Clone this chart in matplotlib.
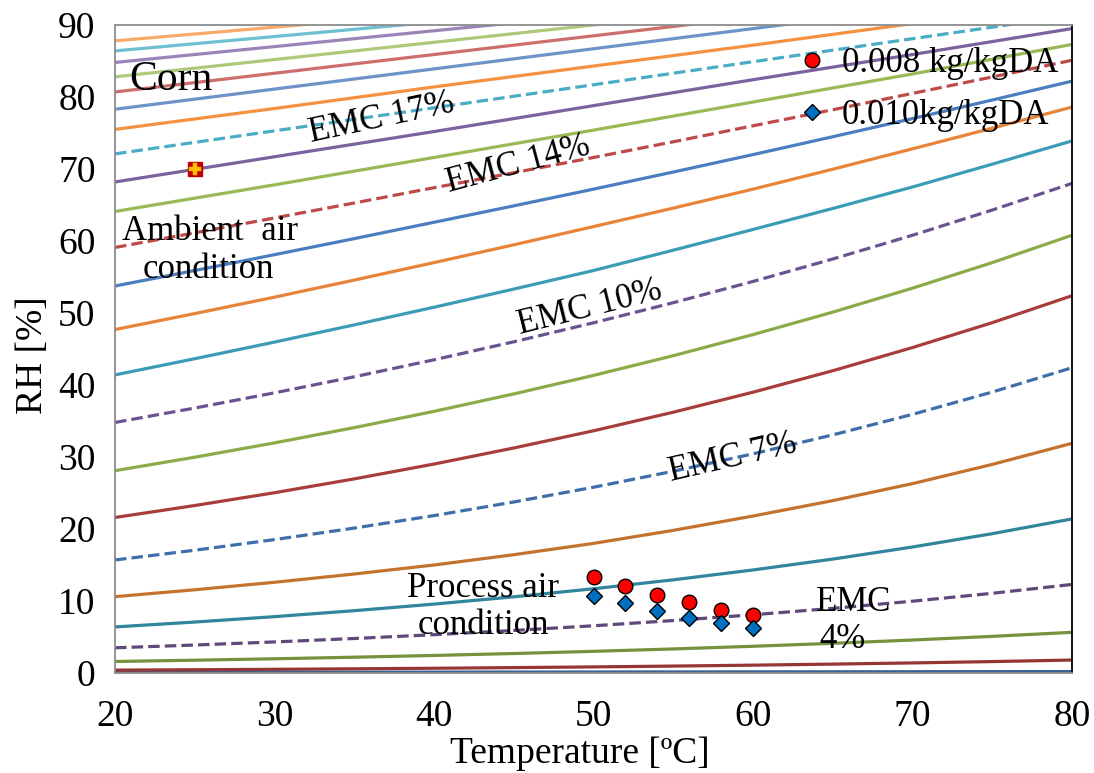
import matplotlib
matplotlib.use("Agg")
import matplotlib.pyplot as plt
from matplotlib.lines import Line2D

plt.rcParams['font.family'] = ['Liberation Serif', 'DejaVu Serif']

# Temperatures (degC) at which each equilibrium-moisture curve is tabulated
temperature = [20, 25, 30, 35, 40, 45, 50, 55, 60, 65, 70, 75, 80]

# Relative humidity (%) along each constant-EMC curve (EMC 1% ... 24%)
emc_01 = [0.10, 0.105, 0.11, 0.115, 0.12, 0.13, 0.14, 0.15, 0.16, 0.17, 0.18, 0.19, 0.20]
emc_02 = [0.4, 0.453, 0.514, 0.583, 0.660, 0.748, 0.848, 0.961, 1.09, 1.235, 1.40, 1.587, 1.80]
emc_03 = [1.6, 1.777, 1.975, 2.194, 2.437, 2.707, 3.007, 3.341, 3.711, 4.123, 4.580, 5.088, 5.65]
emc_04 = [3.5, 3.886, 4.315, 4.792, 5.321, 5.908, 6.560, 7.284, 8.088, 8.981, 9.972, 11.07, 12.3]
emc_05 = [6.4, 7.077, 7.826, 8.654, 9.569, 10.58, 11.70, 12.94, 14.31, 15.82, 17.50, 19.35, 21.4]
emc_06 = [10.6, 11.56, 12.6, 13.75, 15.0, 16.43, 18.0, 19.81, 21.8, 23.94, 26.3, 28.97, 31.9]
emc_07 = [15.7, 17.05, 18.53, 20.13, 21.86, 23.75, 25.80, 28.02, 30.44, 33.07, 35.92, 39.02, 42.4]
emc_08 = [21.6, 23.26, 25.04, 26.96, 29.02, 31.25, 33.64, 36.22, 39.0, 41.98, 45.2, 48.66, 52.4]
emc_09 = [28.1, 29.97, 31.96, 34.08, 36.34, 38.76, 41.33, 44.07, 47.0, 50.12, 53.45, 57.0, 60.8]
emc_10 = [34.8, 36.80, 38.91, 41.14, 43.50, 46.0, 48.64, 51.43, 54.38, 57.50, 60.80, 64.30, 68.0]
emc_11 = [41.4, 43.65, 45.96, 48.35, 50.8, 53.32, 55.9, 58.72, 61.6, 64.52, 67.5, 70.67, 73.9]
emc_12 = [47.7, 49.92, 52.2, 54.57, 57.0, 59.47, 62.0, 64.57, 67.2, 69.97, 72.8, 75.67, 78.6]
emc_13 = [53.75, 55.9, 58.1, 60.33, 62.6, 64.88, 67.2, 69.58, 72.0, 74.48, 77.0, 79.58, 82.2]
emc_14 = [59.1, 61.13, 63.2, 65.28, 67.4, 69.48, 71.6, 73.78, 76.0, 78.23, 80.5, 82.78, 85.1]
emc_15 = [64.1, 65.95, 67.8, 69.7, 71.6, 73.5, 75.4, 77.35, 79.3, 81.25, 83.2, 85.25, 87.3]
emc_16 = [68.2, 69.95, 71.7, 73.45, 75.2, 77.0, 78.8, 80.6, 82.4, 84.15, 85.9, 87.7, 89.5]
emc_17 = [72.1, 73.7, 75.3, 76.9, 78.5, 80.1, 81.7, 83.3, 84.9, 86.5, 88.1, 89.7, 91.3]
emc_18 = [75.5, 76.95, 78.4, 79.9, 81.4, 82.85, 84.3, 85.75, 87.2, 88.7, 90.2, 91.65, 93.1]
emc_19 = [78.3, 79.7, 81.1, 82.5, 83.9, 85.3, 86.7, 88.1, 89.5, 90.9, 92.3, 93.7, 95.1]
emc_20 = [80.7, 82.0, 83.3, 84.6, 85.9, 87.2, 88.5, 89.8, 91.1, 92.4, 93.7, 95.0, 96.3]
emc_21 = [82.8, 84.0, 85.2, 86.4, 87.6, 88.8, 90.0, 91.2, 92.4, 93.6, 94.8, 96.0, 97.2]
emc_22 = [84.8, 85.9, 87.0, 88.1, 89.2, 90.3, 91.4, 92.5, 93.6, 94.7, 95.8, 96.9, 98.0]
emc_23 = [86.4, 87.4, 88.4, 89.4, 90.4, 91.4, 92.4, 93.4, 94.4, 95.4, 96.4, 97.4, 98.4]
emc_24 = [87.8, 88.75, 89.7, 90.65, 91.6, 92.55, 93.5, 94.45, 95.4, 96.35, 97.3, 98.25, 99.2]

curves = [emc_01, emc_02, emc_03, emc_04, emc_05, emc_06, emc_07, emc_08,
          emc_09, emc_10, emc_11, emc_12, emc_13, emc_14, emc_15, emc_16,
          emc_17, emc_18, emc_19, emc_20, emc_21, emc_22, emc_23, emc_24]

# Curves highlighted with a dashed style (EMC %)
dashed_levels = [4, 7, 10, 14, 17]

# Process air states at two humidity ratios
process_temp = [50, 52, 54, 56, 58, 60]
rh_0008 = [13.4, 12.1, 10.9, 9.8, 8.75, 8.0]
rh_0010 = [10.7, 9.7, 8.65, 7.7, 7.0, 6.3]

# Ambient air state
ambient_temp = [25]
ambient_rh = [70]

x_ticks = [20, 30, 40, 50, 60, 70, 80]
y_ticks = [0, 10, 20, 30, 40, 50, 60, 70, 80, 90]

line_colors = [
    '#3A6496', '#963634', '#76923C', '#5F497A', '#31859C', '#C4732F',
    '#3E6EAB', '#A83E3B', '#8AAB47', '#6B5290', '#3A9CB5', '#E8843A',
    '#4A7EC0', '#BE4B48', '#98B954', '#7D62A0', '#4AACC6', '#F59242',
    '#6D93C9', '#CC6E6B', '#AFC97A', '#9A84B8', '#6FBFD2', '#F9AA69',
]

fig = plt.figure(figsize=(10.94, 7.73), dpi=100)
ax = fig.add_axes([115 / 1094, 1 - 673 / 773, (1072 - 115) / 1094, (673 - 25) / 773])

for level, (rh, color) in enumerate(zip(curves, line_colors), start=1):
    style = (0, (3.6, 1.6)) if level in dashed_levels else '-'
    ax.plot(temperature, rh, color=color, lw=2.3, ls=style,
            solid_capstyle='butt', dash_capstyle='butt',
            solid_joinstyle='round', zorder=2)

ax.plot(process_temp, rh_0008, ls='none', marker='o', ms=10.5,
        mfc='#FF0000', mec='black', mew=1.0, zorder=4)
ax.plot(process_temp, rh_0010, ls='none', marker='D', ms=8,
        mfc='#0070C0', mec='black', mew=1.0, zorder=4)

ax.plot(ambient_temp, ambient_rh, ls='none', marker='s', ms=10.5,
        mfc='#C00000', mec='#C00000', zorder=5)
ax.plot(ambient_temp, ambient_rh, ls='none', marker='P', ms=8.5,
        mfc='#FFC000', mec='#FFC000', mew=0.3, zorder=6)

ax.set_xlim(20, 80)
ax.set_ylim(0, 90)
ax.set_xticks(x_ticks)
ax.set_yticks(y_ticks)
ax.tick_params(axis='both', length=0, labelsize=27)
ax.tick_params(axis='x', pad=19)
ax.tick_params(axis='y', pad=14)

for side in ['left', 'bottom', 'top']:
    ax.spines[side].set_color('#8C8C8C')
    ax.spines[side].set_linewidth(1.3)
ax.spines['right'].set_color('black')
ax.spines['right'].set_linewidth(1.3)

ax.set_xlabel('Temperature [ºC]', fontsize=27)
ax.xaxis.set_label_coords(0.486, -0.098)
ax.set_ylabel('RH [%]', fontsize=27)
ax.yaxis.set_label_coords(-0.068, 0.49)

txt = dict(fontsize=25, color='black', zorder=7)
ax.text(20.9, 82.4, 'Corn', fontsize=30, va='center', ha='left', zorder=7)
ax.text(36.74, 77.1, 'EMC 17%', ha='center', va='center', rotation=12,
        rotation_mode='anchor', **txt)
ax.text(45.27, 70.6, 'EMC 14%', ha='center', va='center', rotation=15,
        rotation_mode='anchor', **txt)
ax.text(49.78, 50.7, 'EMC 10%', ha='center', va='center', rotation=14,
        rotation_mode='anchor', **txt)
ax.text(58.75, 29.9, 'EMC 7%', ha='center', va='center', rotation=13,
        rotation_mode='anchor', **txt)
ax.text(66.3, 9.8, 'EMC', ha='center', va='center', **txt)
ax.text(65.6, 4.7, '4%', ha='center', va='center', **txt)
ax.text(25.96, 61.3, 'Ambient  air', ha='center', va='center', **txt)
ax.text(25.83, 56.1, 'condition', ha='center', va='center', **txt)
ax.text(43.1, 11.8, 'Process air', ha='center', va='center', **txt)
ax.text(43.07, 6.6, 'condition', ha='center', va='center', **txt)

handles = [
    Line2D([], [], ls='none', marker='o', ms=10.5, mfc='#FF0000', mec='black', mew=1.0),
    Line2D([], [], ls='none', marker='D', ms=8, mfc='#0070C0', mec='black', mew=1.0),
]
ax.legend(handles, ['0.008 kg/kgDA', '0.010kg/kgDA'], loc='upper left',
          bbox_to_anchor=(0.7106, 0.966), frameon=False, fontsize=25,
          borderpad=0, borderaxespad=0, handlelength=1.0, handletextpad=0.35,
          labelspacing=0.54)

fig.savefig('out.png', dpi=100, facecolor='white')
